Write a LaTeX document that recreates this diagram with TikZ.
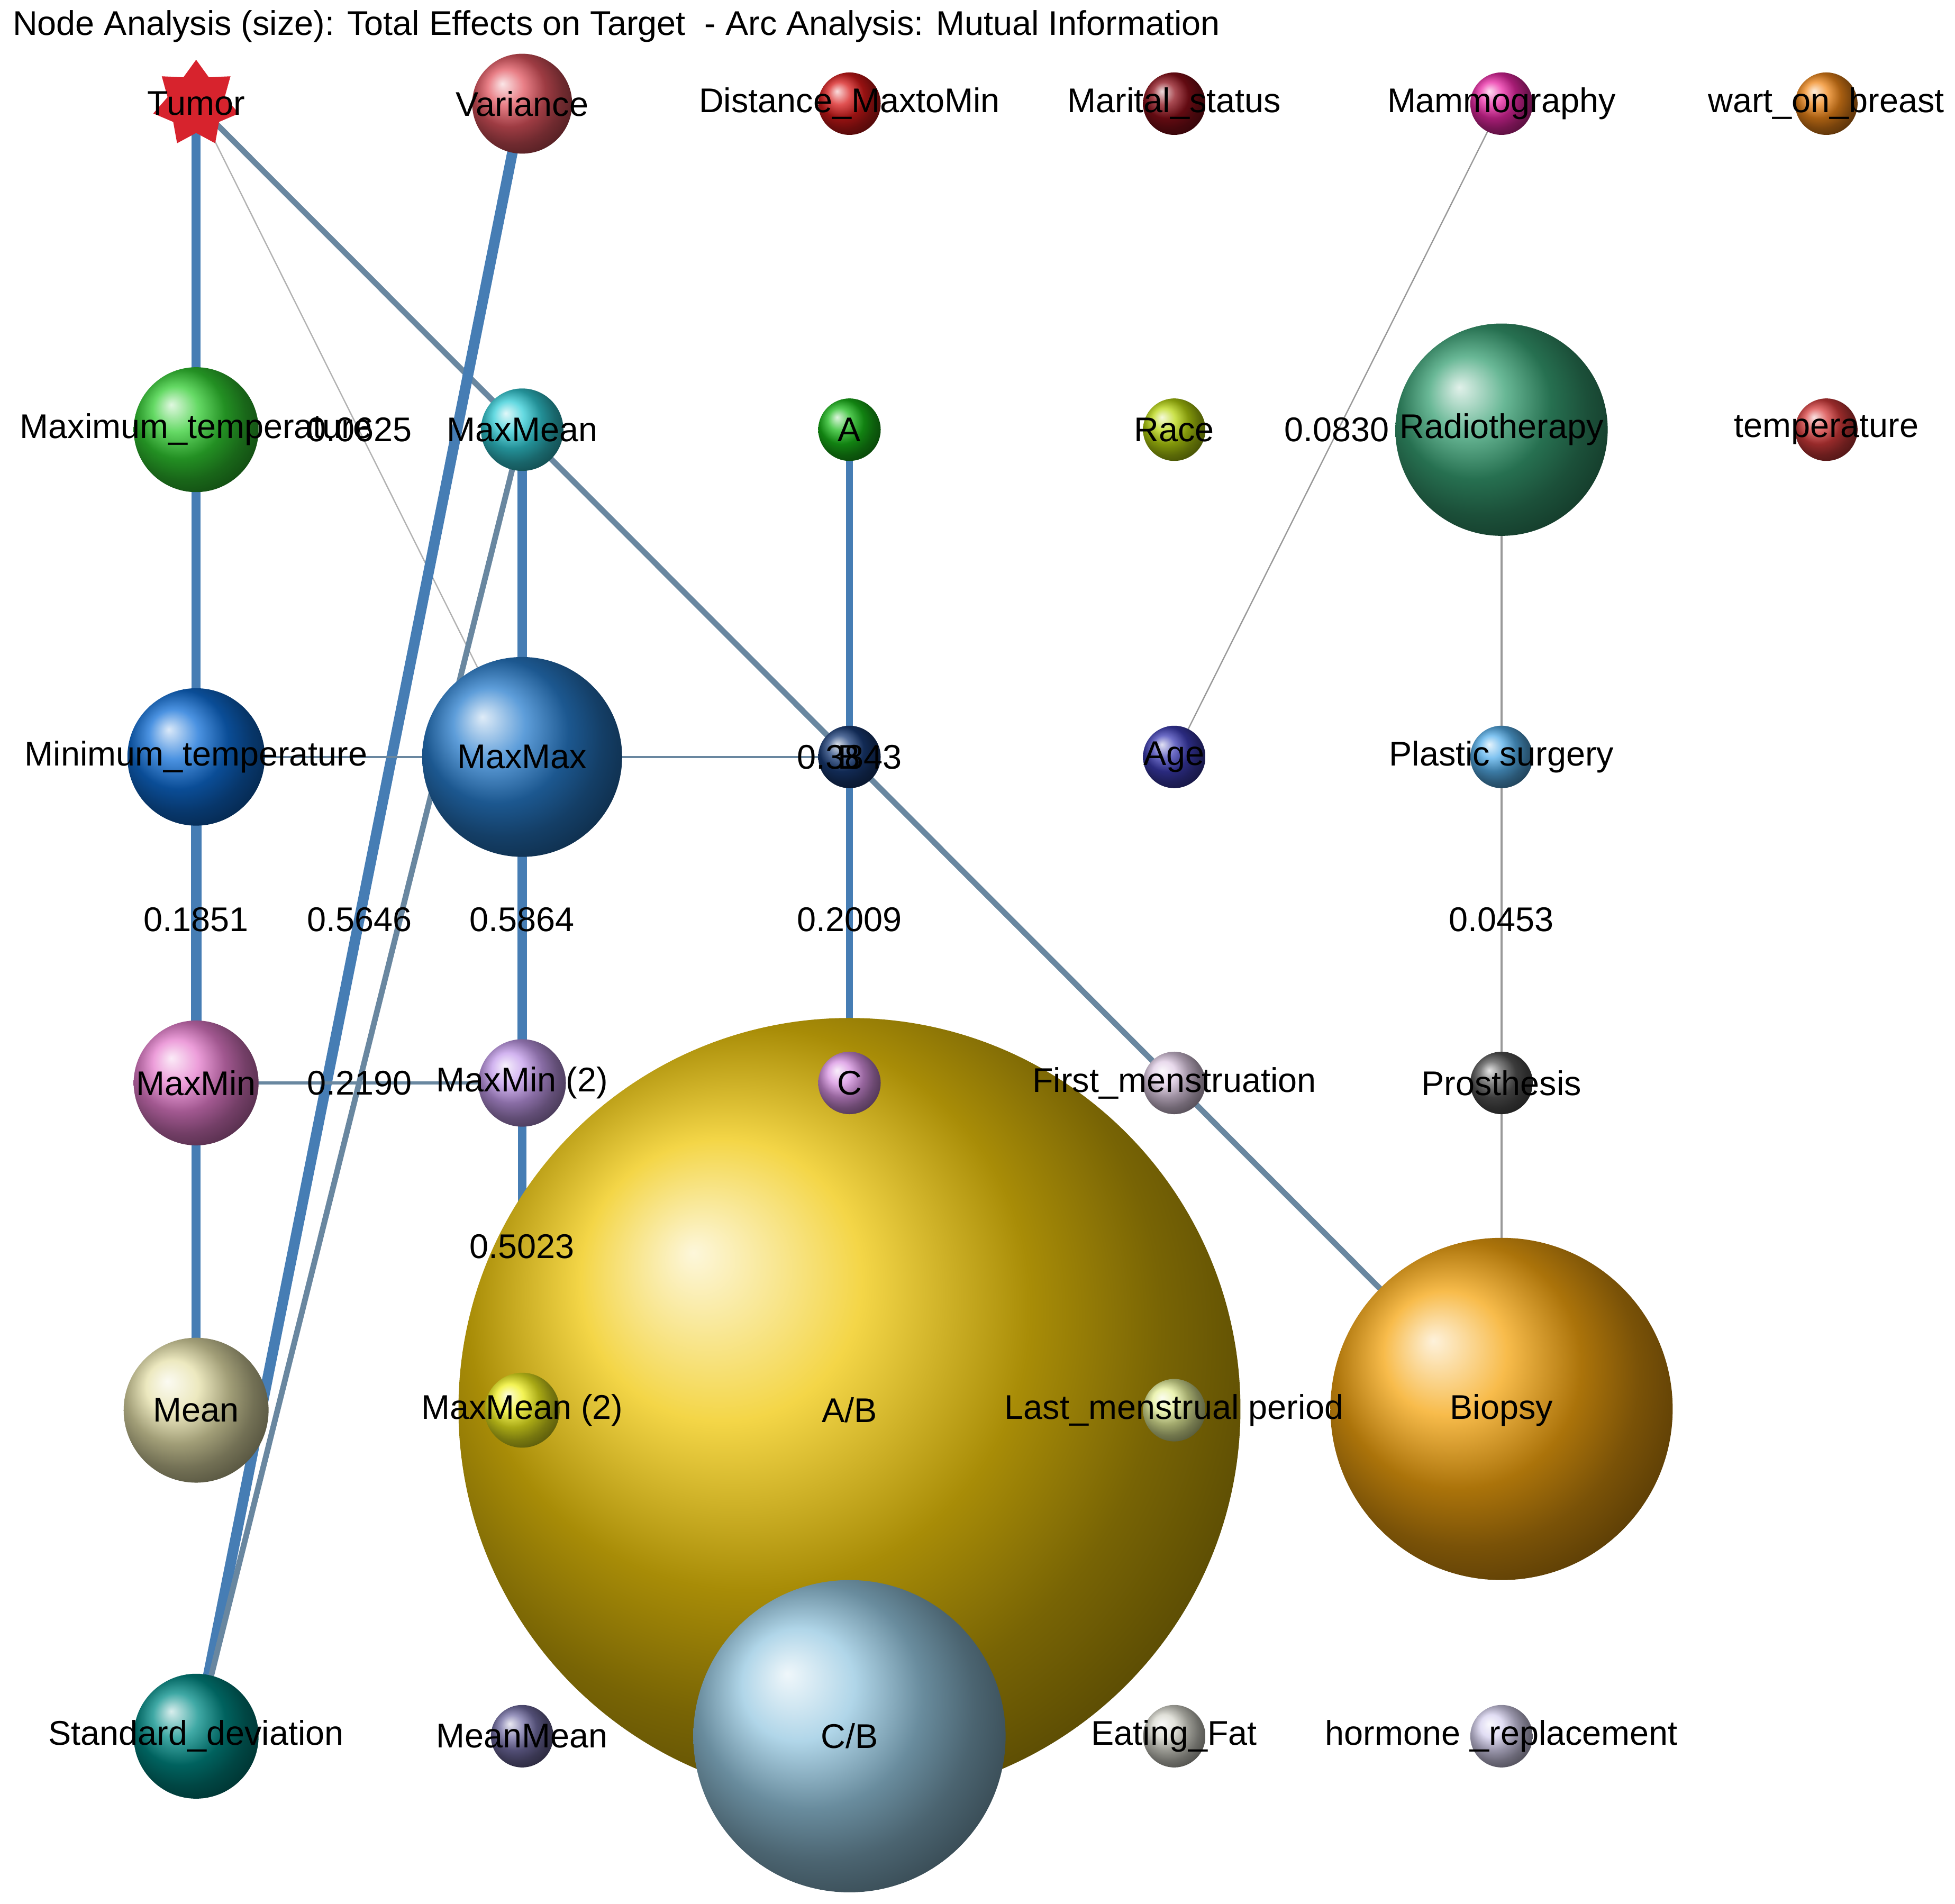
\documentclass[tikz,border=0pt]{standalone}
\usepackage{fontspec}
\setmainfont{Liberation Sans}
\usetikzlibrary{shapes.geometric}
\begin{document}
\begin{tikzpicture}[x=0.01cm,y=-0.01cm,
  lbl/.style={font=\fontsize{7.8}{10}\selectfont,inner sep=1pt},
  e/.style={draw={rgb,255:red,70;green,125;blue,180},line width=#1},
  g/.style={draw={rgb,255:red,105;green,135;blue,160},line width=#1},
  th/.style={draw=gray!80,line width=#1}]
\useasboundingbox (0,0) rectangle (1565,1524);
\node[lbl,anchor=west] at (6,21) {Node Analysis (size): Total Effects on Target \ - Arc Analysis: Mutual Information};
% coordinates
\coordinate (Tumor) at (157,83);
\coordinate (Variance) at (418,83);
\coordinate (MaxTemp) at (157,344);
\coordinate (MaxMean) at (418,344);
\coordinate (A) at (680,344);
\coordinate (Radio) at (1202,344);
\coordinate (MinTemp) at (157,606);
\coordinate (MaxMax) at (418,606);
\coordinate (B) at (680,606);
\coordinate (Age) at (940,606);
\coordinate (Plastic) at (1202,606);
\coordinate (MaxMin) at (157,867);
\coordinate (MaxMinT) at (418,867);
\coordinate (C) at (680,867);
\coordinate (Prost) at (1202,867);
\coordinate (Mean) at (157,1129);
\coordinate (MaxMeanT) at (418,1129);
\coordinate (Biopsy) at (1202,1129);
\coordinate (Std) at (157,1390);
\coordinate (Mammo) at (1202,83);
% edges
\draw[e=2.0pt] (Tumor) -- (MaxTemp);
\draw[draw=gray!60,line width=0.3pt] (Tumor) -- (MaxMax);
\draw[g=1.3pt] (Tumor) -- (Biopsy);
\draw[e=2.4pt] (Variance) -- (Std);
\draw[g=1.3pt] (MaxMean) -- (Std);
\draw[e=2.1pt] (MaxTemp) -- (MinTemp);
\draw[e=2.4pt] (MinTemp) -- (MaxMin);
\draw[e=2.1pt] (MaxMin) -- (Mean);
\draw[e=2.1pt] (MaxMean) -- (MaxMax);
\draw[e=2.1pt] (MaxMax) -- (MaxMinT);
\draw[e=1.9pt] (MaxMinT) -- (MaxMeanT);
\draw[g=0.5pt] (MinTemp) -- (B);
\draw[g=0.7pt] (MaxMin) -- (MaxMinT);
\draw[e=1.5pt] (A) -- (C);
\draw[th=0.3pt] (Mammo) -- (Age);
\draw[th=0.5pt] (Radio) -- (Plastic) -- (Prost) -- (Biopsy);
% nodes
\shade[ball color={rgb,255:red,240;green,200;blue,10}] (680,1128) circle (313);
\shade[ball color={rgb,255:red,245;green,165;blue,15}] (1202,1128) circle (137);
\shade[ball color={rgb,255:red,150;green,200;blue,225}] (680,1390) circle (125);
\shade[ball color={rgb,255:red,55;green,160;blue,115}] (1202,344) circle (85);
\shade[ball color={rgb,255:red,40;green,125;blue,205}] (418,606) circle (80);
\shade[ball color={rgb,255:red,15;green,110;blue,215}] (157,606) circle (55);
\shade[ball color={rgb,255:red,230;green,225;blue,170}] (157,1129) circle (58);
\shade[ball color={rgb,255:red,50;green,205;blue,50}] (157,344) circle (50);
\shade[ball color={rgb,255:red,230;green,125;blue,205}] (157,867) circle (50);
\shade[ball color={rgb,255:red,0;green,140;blue,135}] (157,1390) circle (50);
\shade[ball color={rgb,255:red,225;green,85;blue,95}] (418,83) circle (40);
\shade[ball color={rgb,255:red,50;green,205;blue,215}] (418,344) circle (33);
\shade[ball color={rgb,255:red,195;green,155;blue,235}] (418,867) circle (35);
\shade[ball color={rgb,255:red,240;green,240;blue,30}] (418,1129) circle (30);
\shade[ball color={rgb,255:red,115;green,110;blue,165}] (418,1390) circle (25);
\shade[ball color={rgb,255:red,215;green,25;blue,25}] (680,83) circle (25);
\shade[ball color={rgb,255:red,140;green,15;blue,25}] (940,83) circle (25);
\shade[ball color={rgb,255:red,235;green,40;blue,165}] (1202,83) circle (25);
\shade[ball color={rgb,255:red,240;green,135;blue,25}] (1462,83) circle (25);
\shade[ball color={rgb,255:red,25;green,185;blue,25}] (680,344) circle (25);
\shade[ball color={rgb,255:red,185;green,215;blue,15}] (940,344) circle (25);
\shade[ball color={rgb,255:red,215;green,60;blue,60}] (1462,344) circle (25);
\shade[ball color={rgb,255:red,25;green,60;blue,120}] (680,606) circle (25);
\shade[ball color={rgb,255:red,60;green,60;blue,180}] (940,606) circle (25);
\shade[ball color={rgb,255:red,85;green,175;blue,235}] (1202,606) circle (25);
\shade[ball color={rgb,255:red,215;green,145;blue,225}] (680,867) circle (25);
\shade[ball color={rgb,255:red,225;green,205;blue,230}] (940,867) circle (25);
\shade[ball color={rgb,255:red,85;green,85;blue,85}] (1202,867) circle (25);
\shade[ball color={rgb,255:red,230;green,240;blue,155}] (940,1129) circle (25);
\shade[ball color={rgb,255:red,215;green,215;blue,205}] (940,1390) circle (25);
\shade[ball color={rgb,255:red,215;green,210;blue,240}] (1202,1390) circle (25);
\node[star,star points=7,star point ratio=1.5,fill={rgb,255:red,215;green,35;blue,45},inner sep=0pt,minimum size=20] at (Tumor) {};
% labels
\foreach \x/\y/\t in {157/83/Tumor,418/83/Variance,680/83/Distance\_MaxtoMin,940/83/Marital\_status,1202/83/Mammography,1462/83/wart\_on\_breast,
 157/344/Maximum\_temperature,418/344/MaxMean,680/344/A,940/344/Race,1202/344/Radiotherapy,1462/344/temperature,
 157/606/Minimum\_temperature,418/606/MaxMax,680/606/B,940/606/Age,1202/606/Plastic surgery,
 157/867/MaxMin,418/867/MaxMin (2),680/867/C,940/867/First\_menstruation,1202/867/Prosthesis,
 157/1129/Mean,418/1129/MaxMean (2),680/1129/{A/B},940/1129/Last\_menstrual period,1202/1129/Biopsy,
 157/1390/Standard\_deviation,418/1390/MeanMean,680/1390/{C/B},940/1390/Eating\_Fat,1202/1390/hormone \_replacement}
 \node[lbl] (n\x-\y) at (\x,\y) {\t};
\foreach \x/\y/\t in {288/344/0.0625,680/606/0.3843,1070/344/0.0830,157/736/0.1851,288/736/0.5646,418/736/0.5864,680/736/0.2009,1202/736/0.0453,288/867/0.2190,418/998/0.5023}
 \node[lbl] (m\x-\y) at (\x,\y) {\t};
\end{tikzpicture}
\end{document}
